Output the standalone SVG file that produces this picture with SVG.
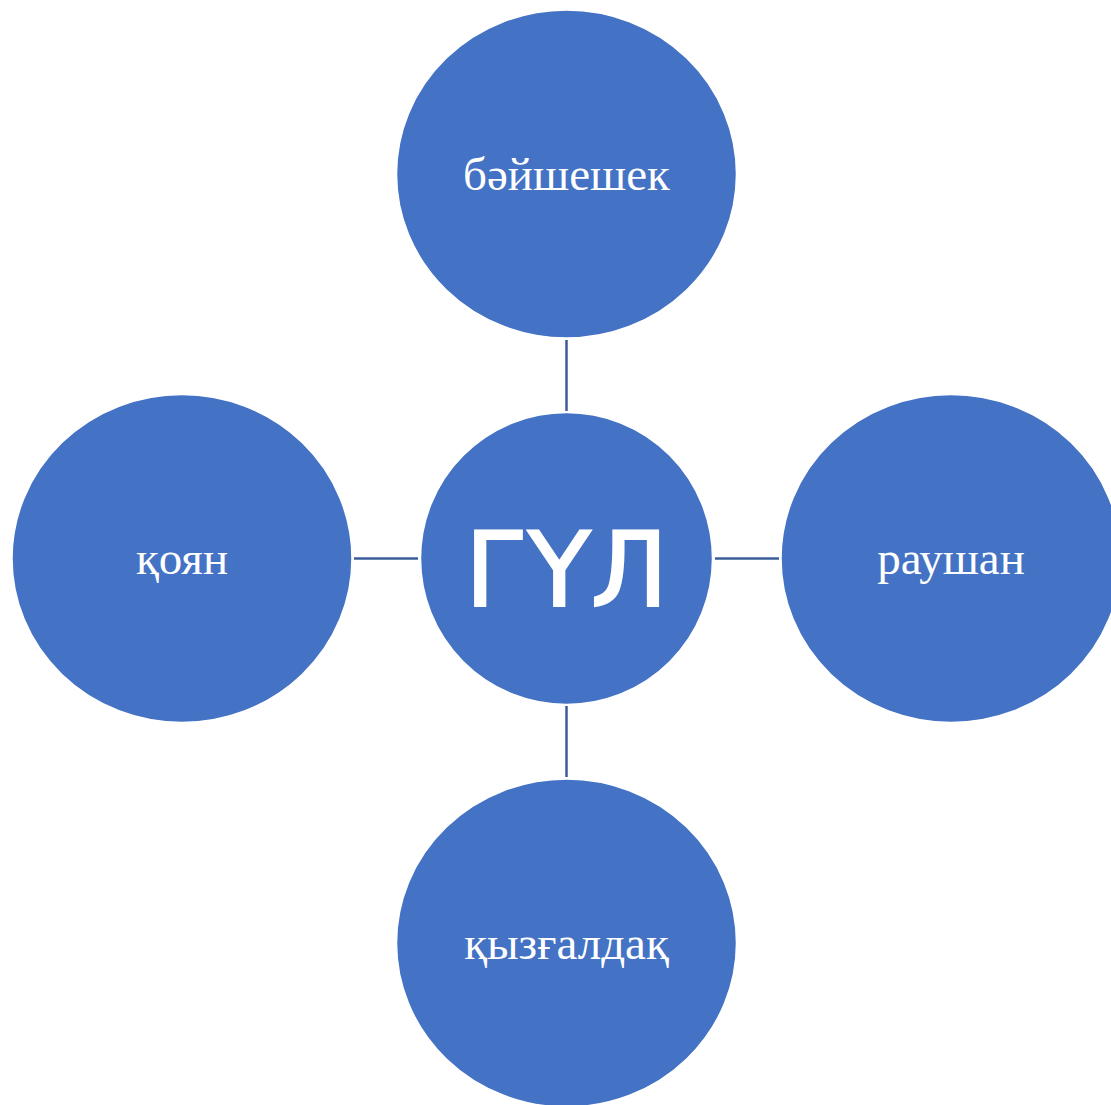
<svg xmlns="http://www.w3.org/2000/svg" width="1111" height="1105" viewBox="0 0 1111 1105">
<style>
.n{fill:#4472C4;stroke:#ffffff;stroke-width:1.5}
.c{stroke:#3B5C99;stroke-width:2.5;fill:none}
.t{fill:#ffffff;font-family:"Liberation Serif",serif;font-size:47px;text-anchor:middle}
.h{fill:#ffffff;stroke:#ffffff;stroke-width:2;font-family:"DejaVu Sans",sans-serif;font-size:103px;text-anchor:middle}
</style>
<rect width="1111" height="1105" fill="#ffffff"/>
<g id="connectors">
<line class="c" x1="566.5" y1="340" x2="566.5" y2="411"/>
<line class="c" x1="566.5" y1="706" x2="566.5" y2="777"/>
<line class="c" x1="354" y1="558.5" x2="418" y2="558.5"/>
<line class="c" x1="715" y1="558.5" x2="779" y2="558.5"/>
</g>
<g id="top"><ellipse class="n" cx="566.5" cy="174" rx="170" ry="164"/><text class="t" x="566.5" y="190">бәйшешек</text></g>
<g id="left"><ellipse class="n" cx="182" cy="558.5" rx="170" ry="164"/><text class="t" x="182" y="574">қоян</text></g>
<g id="center"><ellipse class="n" cx="566.5" cy="558.5" rx="146" ry="146"/><text class="h" x="566.5" y="606">ГҮЛ</text></g>
<g id="right"><ellipse class="n" cx="951" cy="558.5" rx="170" ry="164"/><text class="t" x="951" y="574">раушан</text></g>
<g id="bottom"><ellipse class="n" cx="566.5" cy="943" rx="170" ry="164"/><text class="t" x="566.5" y="959">қызғалдақ</text></g>
</svg>
